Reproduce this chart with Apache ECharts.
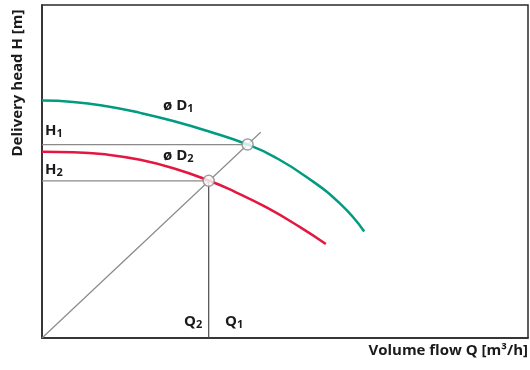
<!DOCTYPE html>
<html>
<head>
<meta charset="utf-8">
<script src="https://cdn.jsdelivr.net/npm/echarts@6/dist/echarts.min.js"></script>
<style>
  html, body { margin: 0; padding: 0; background: #fff; }
  #main { width: 530px; height: 370px; }
</style>
</head>
<body>
<div id="main"></div>
<script>
// pump curve for impeller D1 (volume flow, delivery head)
var curveD1 = [
  [0, 71.3], [6.4, 70.9], [13.3, 69.6], [20.2, 67.6], [27.2, 65.1], [34.2, 62.1],
  [42.3, 58.1], [47.8, 54.4], [54.5, 48.3], [61.5, 40.1], [66.3, 32.0]
];
// pump curve for the trimmed impeller D2
var curveD2 = [
  [0, 55.9], [6.4, 55.8], [13.3, 55.1], [20.2, 53.5], [27.2, 50.9], [34.3, 47.3],
  [39.4, 44.1], [46.2, 39.2], [53.1, 33.3], [58.4, 28.2]
];
// line through the origin and both duty points
var diagonal = [[0, 0], [45.0, 61.8]];
// duty points: Q1/H1 and Q2/H2
var pointQ1 = [42.3, 58.1];
var pointQ2 = [34.3, 47.2];

var GREEN = '#009b80';
var RED = '#e3173f';
var GREY = '#8a8a8a';
var FONT = '"Open Sans"';

var chart = echarts.init(document.getElementById('main'));

function subText(main, sub) {
  return '{m|' + main + '}{s|' + sub + '}';
}
var richSub = {
  m: { fontFamily: FONT, fontWeight: 'bold', fontSize: 15, fill: '#1a1a1a' },
  s: { fontFamily: FONT, fontWeight: 'bold', fontSize: 11, fill: '#1a1a1a', padding: [6, 0, 0, 0] }
};

var option = {
  backgroundColor: '#fff',
  animation: false,
  grid: {
    left: 42, right: 2, top: 5, bottom: 32,
    show: true, borderColor: '#2a2a2a', borderWidth: 1.5
  },
  xAxis: {
    type: 'value', min: 0, max: 100,
    axisLine: { show: true, lineStyle: { color: '#2a2a2a', width: 1.5 } },
    axisTick: { show: false }, axisLabel: { show: false }, splitLine: { show: false }
  },
  yAxis: {
    type: 'value', min: 0, max: 100,
    axisLine: { show: true, lineStyle: { color: '#2a2a2a', width: 1.5 } },
    axisTick: { show: false }, axisLabel: { show: false }, splitLine: { show: false }
  },
  series: [
    {
      type: 'line', data: diagonal, symbol: 'none', silent: true,
      lineStyle: { color: GREY, width: 1.2 }
    },
    {
      type: 'line', data: [[0, pointQ1[1]], pointQ1], symbol: 'none',
      lineStyle: { color: GREY, width: 1.2 }
    },
    {
      type: 'line', data: [[0, pointQ2[1]], pointQ2], symbol: 'none',
      lineStyle: { color: GREY, width: 1.2 }
    },
    {
      type: 'line', data: [[pointQ2[0], 0], pointQ2], symbol: 'none',
      lineStyle: { color: '#4a4a4a', width: 1.2 }
    },
    {
      name: 'D1', type: 'line', data: curveD1, smooth: 0.5, symbol: 'none',
      lineStyle: { color: GREEN, width: 2.5 }
    },
    {
      name: 'D2', type: 'line', data: curveD2, smooth: 0.5, symbol: 'none',
      lineStyle: { color: RED, width: 2.5 }
    },
    {
      type: 'scatter', data: [pointQ1, pointQ2], symbol: 'circle', symbolSize: 11,
      itemStyle: { color: '#fff', borderColor: GREY, borderWidth: 1.5 }, z: 5
    }
  ],
  graphic: [
    { type: 'text', left: 45, top: 123, style: { text: subText('H', '1'), rich: richSub } },
    { type: 'text', left: 45, top: 162, style: { text: subText('H', '2'), rich: richSub } },
    { type: 'text', left: 163, top: 98, style: { text: subText('ø D', '1'), rich: richSub } },
    { type: 'text', left: 163, top: 148, style: { text: subText('ø D', '2'), rich: richSub } },
    { type: 'text', left: 184, top: 314, style: { text: subText('Q', '2'), rich: richSub } },
    { type: 'text', left: 225, top: 314, style: { text: subText('Q', '1'), rich: richSub } },
    {
      type: 'text', right: 2, top: 343,
      style: { text: 'Volume flow Q [m³/h]', font: 'bold 15px ' + FONT, fill: '#1a1a1a' }
    },
    {
      type: 'text', x: 10, y: 83, rotation: Math.PI / 2,
      style: {
        text: 'Delivery head H [m]', font: 'bold 15px ' + FONT, fill: '#1a1a1a',
        align: 'center', verticalAlign: 'top'
      }
    }
  ]
};
chart.setOption(option);
</script>
</body>
</html>
